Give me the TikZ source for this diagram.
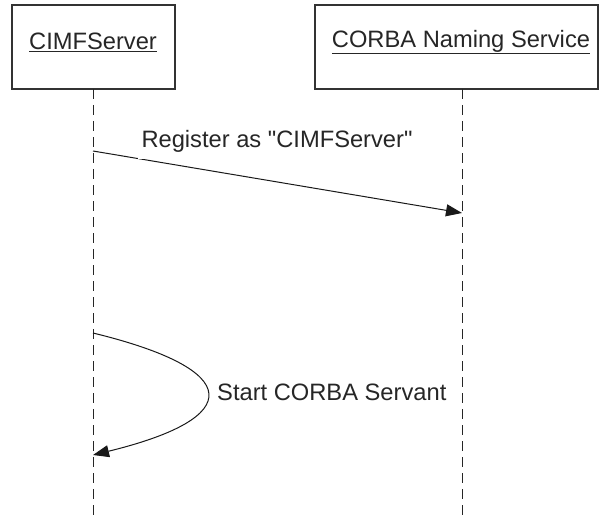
\documentclass[tikz,border=0pt]{standalone}
\usepackage{fontspec}
\setmainfont[Ligatures=TeXOff]{Liberation Sans}
\usetikzlibrary{arrows.meta}
\begin{document}
\begin{tikzpicture}[x=1pt,y=-1pt,
  lbl/.style={font=\fontsize{23.7}{28}\selectfont, text=black!85},
  actor/.style={draw=black!80, line width=1.1pt, rectangle, inner sep=0pt},
  life/.style={draw=black!85, line width=0.9pt, dash pattern=on 10pt off 6pt},
  msg/.style={draw=black!90, line width=1pt, -{Triangle[length=16pt,width=12pt]}}]
\useasboundingbox (0,0) rectangle (599,516);
% actor boxes
\node[actor, minimum width=163pt, minimum height=84pt] (a) at (93.5,47) {};
\node[actor, minimum width=283pt, minimum height=84pt] (b) at (456.5,47) {};
\node[lbl] (at) at (93,42) {\underline{CIMFServer}};
\node[lbl] (bt) at (461,42) {\underline{CORBA Naming Service}};
% lifelines
\coordinate (a0) at (93,89);
\coordinate (a1) at (93,516);
\coordinate (b0) at (462,89);
\coordinate (b1) at (462,516);
\draw[life] (a0) -- (a1);
\draw[life] (b0) -- (b1);
% message 1
\coordinate (m1s) at (93,151);
\coordinate (m1e) at (462,213);
\draw[msg] (m1s) -- (m1e);
\node[lbl, fill=white, inner xsep=4pt, inner ysep=7pt, anchor=base] (m1) at (277,147) {Register as "CIMFServer"};
% self message
\coordinate (m2s) at (93,333);
\coordinate (m2e) at (93,455);
\draw[msg] (m2s) .. controls (245,370) and (245,418) .. (m2e);
\node[lbl, anchor=base west, inner sep=0pt] (m2) at (217,400) {Start CORBA Servant};
\end{tikzpicture}
\end{document}
